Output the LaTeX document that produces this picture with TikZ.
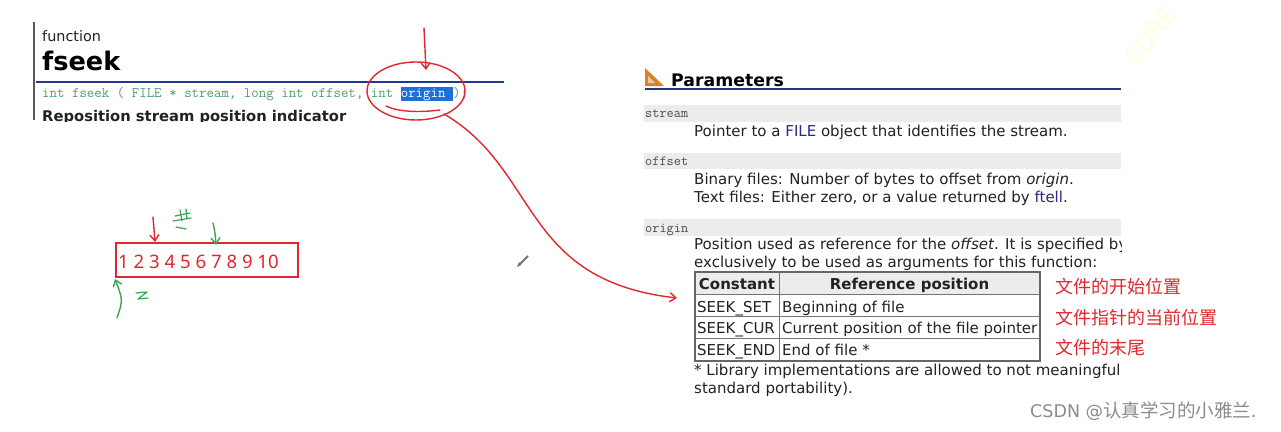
\documentclass[tikz,border=0pt]{standalone}
\usepackage{fontspec}
\setmainfont{DejaVu Sans}
\newfontfamily\cjk{Noto Sans CJK SC}
\newfontfamily\digitfont{Noto Sans}
\usetikzlibrary{arrows.meta}
\definecolor{hred}{HTML}{E0282E}
\definecolor{hgreen}{HTML}{3AA655}
\definecolor{codegreen}{HTML}{4E9E68}
\definecolor{hlblue}{HTML}{1E6FD9}
\definecolor{lineblue}{HTML}{1F3A8A}
\definecolor{fileblue}{HTML}{2A2A8A}
\definecolor{band}{HTML}{ECECEC}
\definecolor{txt}{HTML}{222222}
\definecolor{iconorange}{HTML}{D9822B}
\newcommand{\fixsp}{\spaceskip=0.525em\relax}
\tikzset{
  body/.style={inner sep=0, anchor=base west, font=\fontsize{15}{18}\selectfont, text=txt},
  mono/.style={inner sep=0, anchor=base west, font=\ttfamily\fontsize{13.9}{16}\selectfont},
  codeline/.style={inner sep=0, anchor=base west, font=\ttfamily\fontsize{14.45}{16}\selectfont},
  cjklabel/.style={inner sep=0, anchor=base west, font=\cjk\fontsize{18}{20}\selectfont, text=hred},
  pen/.style={line width=1.4pt, line cap=round, line join=round},
  redpen/.style={pen, draw=hred},
  greenpen/.style={pen, draw=hgreen},
  barb/.style={-{Straight Barb[length=6pt,width=9pt]}},
  tabtext/.style={inner sep=0, anchor=base west, font=\fontsize{15}{18}\selectfont, text=txt},
  tabhead/.style={inner sep=0, anchor=base, font=\bfseries\fontsize{15}{18}\selectfont, text=txt},
}
\begin{document}
\begin{tikzpicture}[x=1pt,y=-1pt]
\useasboundingbox (0,0) rectangle (1281,431);
\fill[white] (0,0) rectangle (1281,431);

% ---------- left: fseek header ----------
\draw[line width=2pt, black!65] (34,22) -- (34,120);
\node[inner sep=0, anchor=base west, font=\fontsize{14.4}{16}\selectfont, text=txt] (fn) at (42,41) {function};
\node[inner sep=0, anchor=base west, font=\bfseries\fontsize{25.6}{28}\selectfont, text=black] (fs) at (42,70) {fseek};
\draw[line width=1.6pt, lineblue] (36,82) -- (504,82);
\node[codeline, text=codegreen] (code) at (42,97) {\fixsp int fseek ( FILE * stream, long int offset, int \setlength{\fboxsep}{0pt}\colorbox{hlblue}{\rule[-3.6pt]{0pt}{13.8pt}\textcolor{white}{origin\ }});};
\begin{scope}
\clip (30,100) rectangle (600,121);
\node[inner sep=0, anchor=base west, font=\bfseries\fontsize{14.75}{17}\selectfont, text=txt] (rep) at (42,121.5) {Reposition stream position indicator};
\end{scope}

% red annotations on the code line
\coordinate (ra1) at (424,28);
\coordinate (ra2) at (426,70);
\draw[redpen, barb] (ra1) -- (ra2);
\draw[redpen] (416,91) ellipse [x radius=49pt, y radius=29pt];
\draw[redpen] (386,106) .. controls (400,113) and (425,112) .. (440,110);
\coordinate (cs) at (444,114);
\coordinate (ce) at (677,298);
\draw[redpen, barb] (cs) .. controls (540,170) and (520,280) .. (ce);

% ---------- left: number box ----------
\node[draw=hred, line width=1.6pt, minimum width=182pt, minimum height=34pt, inner sep=0] (box) at (207,260) {};
\node[inner sep=0, anchor=base west, font=\digitfont\fontsize{18.6}{20}\selectfont, text=hred] (digits) at (118,268) {1 2 3 4 5 6 7 8 9 10};
\coordinate (rb1) at (153,217);
\coordinate (rb2) at (155,242);
\draw[redpen, barb] (rb1) -- (rb2);
\coordinate (gb1) at (213,223);
\coordinate (gb2) at (216,245);
\draw[greenpen, barb] (gb1) .. controls (215,232) .. (gb2);
\coordinate (gu1) at (117,318);
\coordinate (gu2) at (115,279);
\draw[greenpen, barb] (gu1) .. controls (123,300) .. (gu2);
% green scribbles
\draw[greenpen, line width=1.2pt] (175,216) -- (190,213);
\draw[greenpen, line width=1.2pt] (180,210) -- (182,221);
\draw[greenpen, line width=1.2pt] (186,209) -- (187,219);
\draw[greenpen, line width=1.2pt] (173,221) -- (191,218);
\draw[greenpen, line width=1.2pt] (176,227) -- (186,229);
\draw[greenpen, line width=1.2pt] (136,293) -- (147,292) -- (138,299) -- (148,298);

% pencil cursor
\draw[line width=2pt, black!55] (519,265) -- (528,256);
\fill[black!55] (517,267) -- (519,262) -- (521,265) -- cycle;

% ---------- right: parameters ----------
\fill[iconorange] (645,86) -- (645,68) -- (664,86) -- cycle;
\fill[white!55!iconorange] (648,83) -- (648,76) -- (655,83) -- cycle;
\node[inner sep=0, anchor=base west, font=\bfseries\fontsize{17.3}{20}\selectfont, text=black] (par) at (671,86) {Parameters};
\draw[line width=1.4pt, lineblue] (645,89) -- (1121,89);
\fill[band] (644,105) rectangle (1121,122);
\fill[band] (644,153) rectangle (1121,169);
\fill[band] (644,219) rectangle (1121,236);
\begin{scope}
\clip (640,0) rectangle (1121,431);
\node[mono, text=black!70] (ls) at (645,117) {stream};
\node[body] (p1) at (694,136) {Pointer to a \textcolor{fileblue}{FILE} object that identifies the stream.};
\node[mono, text=black!70] (lo) at (645,165) {offset};
\node[body] (p2) at (694,184) {Binary files: Number of bytes to offset from \textit{origin}.};
\node[body] (p3) at (694,202) {Text files: Either zero, or a value returned by \textcolor{fileblue}{ftell}.};
\node[mono, text=black!70] (lg) at (645,232) {origin};
\node[body] (p4) at (694,249) {Position used as reference for the \textit{offset}. It is specified by};
\node[body] (p5) at (694,267) {exclusively to be used as arguments for this function:};
\node[body] (p6) at (694,375) {* Library implementations are allowed to not meaningful};
\node[body] (p7) at (694,393) {standard portability).};
\end{scope}

% table
\fill[band] (695,272) rectangle (1040,294);
\draw[line width=0.8pt, black!55] (695,294) -- (1040,294);
\draw[line width=0.8pt, black!55] (695,316) -- (1040,316);
\draw[line width=0.8pt, black!55] (695,338) -- (1040,338);
\draw[line width=0.8pt, black!55] (779,272) -- (779,361);
\draw[line width=1.4pt, black!60] (695,272) rectangle (1040,361);
\node[tabhead] (h1) at (737,289) {Constant};
\node[tabhead] (h2) at (909.5,289) {Reference position};
\node[tabtext] (s1) at (697,312) {SEEK\_SET};
\node[tabtext] (d1) at (782,312) {Beginning of file};
\node[tabtext] (s2) at (697,333) {SEEK\_CUR};
\node[tabtext] (d2) at (782,333) {Current position of the file pointer};
\node[tabtext] (s3) at (697,355) {SEEK\_END};
\node[tabtext] (d3) at (782,355) {End of file *};

% chinese annotations
\node[cjklabel] (z1) at (1055,293) {文件的开始位置};
\node[cjklabel] (z2) at (1055,324) {文件指针的当前位置};
\node[cjklabel] (z3) at (1055,354) {文件的末尾};

% watermarks
\node[inner sep=0, anchor=base west, text=black!45] (wm) at (1030,417) {\fontsize{17.5}{19}\selectfont CSDN @\cjk\fontsize{18.5}{20}\selectfont 认真学习的小雅兰.};
\node[inner sep=0, rotate=50, font=\fontsize{24}{26}\selectfont, text=yellow!14] (cure) at (1150,36) {CURE};
\end{tikzpicture}
\end{document}
